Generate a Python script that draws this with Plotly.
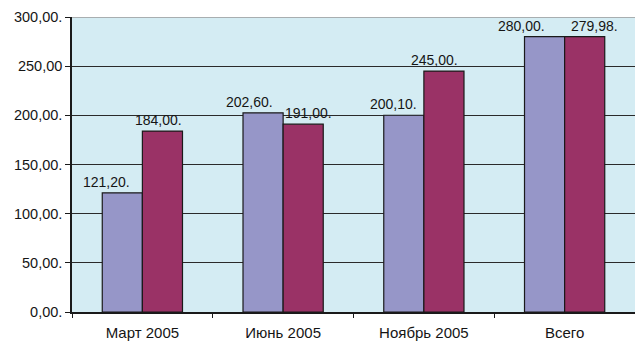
import plotly.graph_objects as go

# Periods on the category axis
categories = ["Март 2005", "Июнь 2005", "Ноябрь 2005", "Всего"]
# Two series per period
series_a = [121.20, 202.60, 200.10, 280.00]
series_b = [184.00, 191.00, 245.00, 279.98]
# Value axis ticks
y_ticks = [0, 50, 100, 150, 200, 250, 300]
y_tick_labels = ["0,00.", "50,00.", "100,00.", "150,00.", "200,00.", "250,00", "300,00."]

# Horizontal nudges (px) of the value labels, so neighbouring labels don't collide
nudge_a = [-16, -14, -10, -23]
nudge_b = [-4, 5, -9, 10]

font_family = "Liberation Sans, Arial, sans-serif"
text_color = "#151515"

W, H = 635, 343
margin = dict(l=72, r=0, t=17, b=31)
bargap = 0.43
colors = ["#9696C8", "#9A3266"]

fig = go.Figure()
for vals, color in zip([series_a, series_b], colors):
    fig.add_trace(go.Bar(
        x=categories, y=vals,
        marker=dict(color=color, line=dict(color="#1a1a1a", width=1.2)),
    ))

# half-bar offset of each series from the category centre, in px
cat_px = (W - margin["l"] - margin["r"]) / len(categories)
bar_px = cat_px * (1 - bargap) / 2
annotations = []
for vals, nudges, side in [(series_a, nudge_a, -1), (series_b, nudge_b, 1)]:
    for cat, v, n in zip(categories, vals, nudges):
        annotations.append(dict(
            x=cat, y=v, xref="x", yref="y",
            text=f"{v:.2f}.".replace(".", ",", 1),
            showarrow=False, yanchor="bottom", yshift=1,
            xshift=side * bar_px / 2 + n,
            font=dict(family=font_family, size=14, color=text_color),
        ))

fig.update_layout(
    width=W, height=H,
    margin=margin,
    paper_bgcolor="white",
    plot_bgcolor="#D4ECF3",
    barmode="group",
    bargap=bargap, bargroupgap=0,
    showlegend=False,
    separators=",.",
    font=dict(family=font_family, color=text_color),
    annotations=annotations,
    xaxis=dict(
        showline=True, linecolor="#1a1a1a", linewidth=1.5,
        ticks="outside", tickson="boundaries", ticklen=4, tickcolor="#1a1a1a",
        tickfont=dict(size=15), showgrid=False, ticklabelstandoff=6,
    ),
    yaxis=dict(
        range=[0, 300], tickvals=y_ticks, ticktext=y_tick_labels,
        showline=True, linecolor="#1a1a1a", linewidth=1.5,
        ticks="outside", ticklen=5, tickcolor="#1a1a1a",
        showgrid=True, gridcolor="#2a2a2a", gridwidth=1.3,
        tickfont=dict(size=14.5), zeroline=False,
    ),
    shapes=[dict(type="line", xref="paper", yref="y", x0=0, x1=1, y0=300, y1=300,
                 line=dict(color="#9a9a9a", width=1.5), layer="above")],
)

fig.write_html("out.html")
